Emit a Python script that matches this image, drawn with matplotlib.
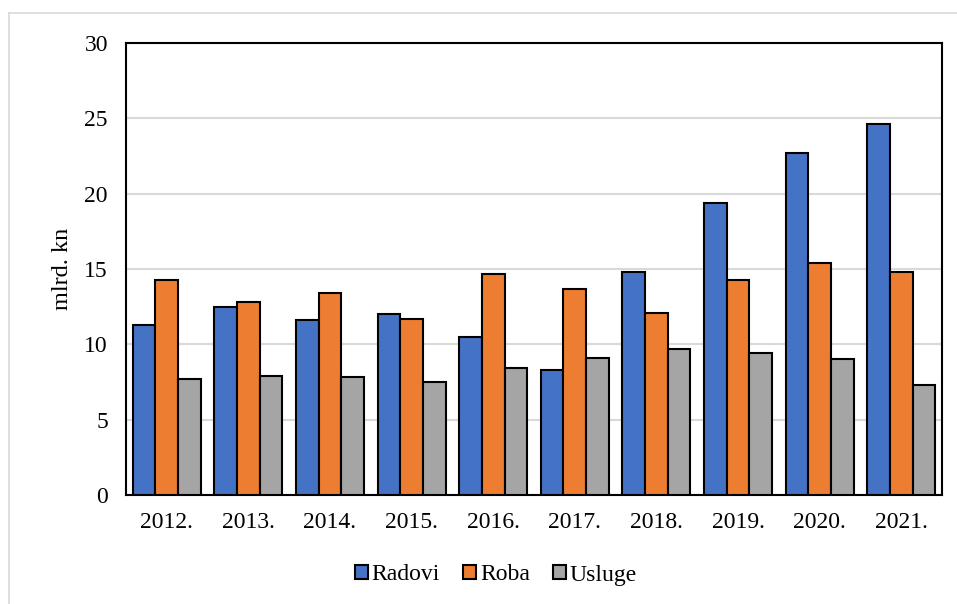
import matplotlib
matplotlib.use("Agg")
import matplotlib.pyplot as plt
import numpy as np
from matplotlib.lines import Line2D

years = ["2012.", "2013.", "2014.", "2015.", "2016.", "2017.", "2018.", "2019.", "2020.", "2021."]
radovi = [11.3, 12.5, 11.6, 12.0, 10.5, 8.3, 14.8, 19.4, 22.7, 24.6]
roba = [14.3, 12.8, 13.4, 11.7, 14.7, 13.7, 12.1, 14.3, 15.4, 14.8]
usluge = [7.7, 7.9, 7.8, 7.5, 8.4, 9.1, 9.7, 9.4, 9.0, 7.3]
series_names = ["Radovi", "Roba", "Usluge"]
colors = ["#4472C4", "#ED7D31", "#A5A5A5"]

plt.rcParams['font.family'] = ['Liberation Serif', 'DejaVu Serif']

fig = plt.figure(figsize=(9.57, 6.04), dpi=100)
ax = fig.add_axes([126/957, 1 - 495/604, (942-126)/957, (495-43)/604])

x = np.arange(len(years))
w = 1 / 3.6
for i, (vals, name, c) in enumerate(zip([radovi, roba, usluge], series_names, colors)):
    ax.bar(x + (i - 1) * w, vals, width=w, color=c, edgecolor='black', linewidth=1.5,
           label=name, zorder=3)

ax.set_xlim(-0.5, len(years) - 0.5)
ax.set_ylim(0, 30)
ax.set_yticks(range(0, 31, 5))
ax.set_xticks(x)
ax.set_xticklabels(years)
ax.tick_params(axis='both', length=0, labelsize=17)
ax.tick_params(axis='x', pad=12)
ax.tick_params(axis='y', pad=13)
ax.yaxis.grid(True, color='#D9D9D9', linewidth=1.5, zorder=0)
ax.set_axisbelow(True)
for s in ax.spines.values():
    s.set_linewidth(1.5)
    s.set_color('black')
ax.set_ylabel("mlrd. kn", fontsize=17.5, labelpad=8)

leg = ax.legend(loc='center', bbox_to_anchor=(496/957, 1 - 575/604), bbox_transform=fig.transFigure,
                ncol=3, frameon=False, fontsize=17, handlelength=0.55, handleheight=0.55,
                handletextpad=0.15, columnspacing=1.0)

# outer chart border
fig.add_artist(Line2D([9/957, 1.0], [1 - 13/604, 1 - 13/604], transform=fig.transFigure,
                      color='#D9D9D9', linewidth=1.2))
fig.add_artist(Line2D([9/957, 9/957], [0, 1 - 13/604], transform=fig.transFigure,
                      color='#D9D9D9', linewidth=1.2))

fig.savefig("out.png", dpi=100)
